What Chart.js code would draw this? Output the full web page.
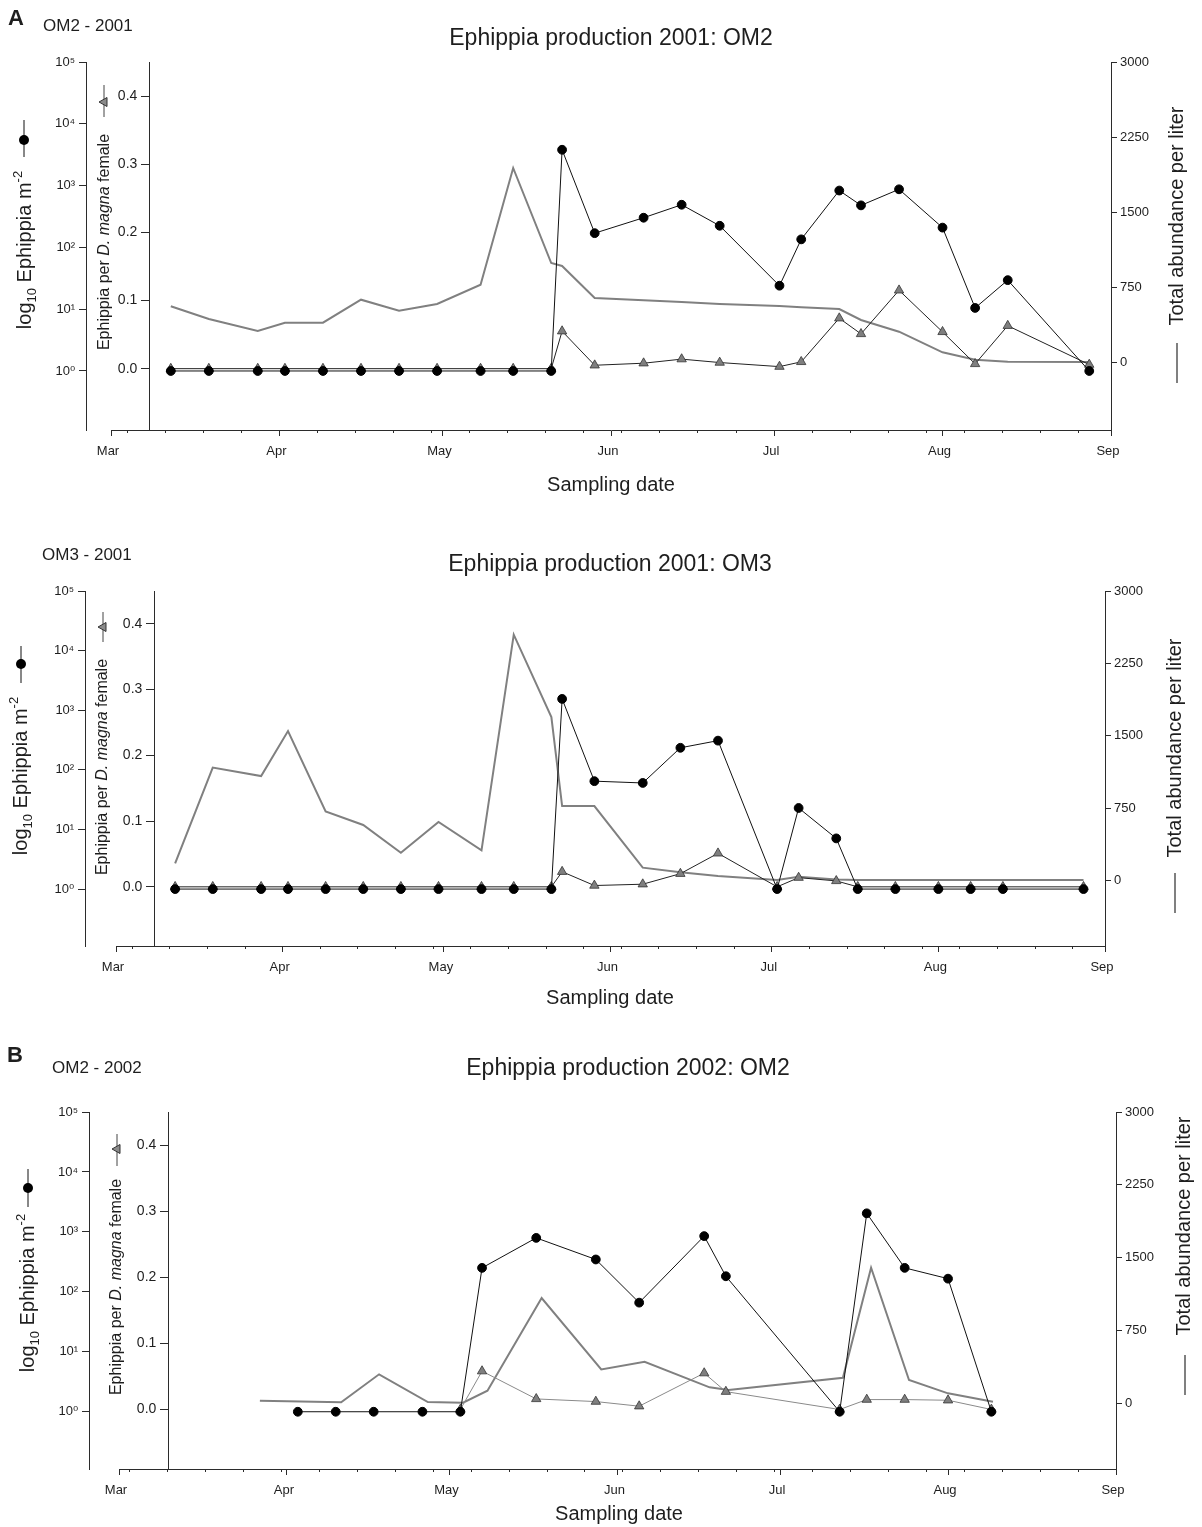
<!DOCTYPE html>
<html>
<head>
<meta charset="utf-8">
<title>Ephippia production</title>
<script src="https://cdn.jsdelivr.net/npm/chart.js@4.4.1/dist/chart.umd.min.js"></script>
<style>
  html, body { margin: 0; padding: 0; background: #fff; }
  #wrap { position: relative; width: 1202px; height: 1527px; overflow: hidden; }
  canvas { position: absolute; left: 0; }
</style>
</head>
<body>
<div id="wrap">
  <canvas id="om2_2001" width="1202" height="510" style="top:0px"></canvas>
  <canvas id="om3_2001" width="1202" height="510" style="top:520px"></canvas>
  <canvas id="om2_2002" width="1202" height="497" style="top:1030px"></canvas>
</div>
<script>
// x values are days since 1 March
const MONTH_LABELS = ['Mar', 'Apr', 'May', 'Jun', 'Jul', 'Aug', 'Sep'];
const MONTH_START_DAYS = [0, 31, 61, 92, 122, 153, 184];
const LOG_TICKS = [0, 1, 2, 3, 4, 5];
const LOG_TICK_LABELS = ['10\u2070', '10\u00b9', '10\u00b2', '10\u00b3', '10\u2074', '10\u2075'];
const RATIO_TICKS = [0, 0.1, 0.2, 0.3, 0.4];
const ABUND_TICKS = [0, 750, 1500, 2250, 3000];
const FIRST_SUNDAY_2001 = 3;
const FIRST_SUNDAY_2002 = 2;

// OM2 - 2001 and OM3 - 2001 share sampling dates
const days2001 = [11, 18, 27, 32, 39, 46, 53, 60, 68, 74, 81, 83, 89, 98, 105, 112, 123, 127, 134, 138, 145, 153, 159, 165, 180];

const om2_2001_ephippiaLog = [0, 0, 0, 0, 0, 0, 0, 0, 0, 0, 0, 3.58, 2.23, 2.48, 2.69, 2.35, 1.38, 2.13, 2.92, 2.68, 2.94, 2.32, 1.02, 1.47, 0];
const om2_2001_perFemale = [0, 0, 0, 0, 0, 0, 0, 0, 0, 0, 0, 0.055, 0.005, 0.008, 0.014, 0.009, 0.003, 0.010, 0.074, 0.051, 0.115, 0.054, 0.007, 0.063, 0.006];
const om2_2001_abundDays = [11, 18, 27, 32, 39, 46, 53, 60, 68, 74, 81, 83, 89, 98, 105, 112, 123, 127, 134, 138, 145, 153, 159, 165, 180];
const om2_2001_abundance = [557, 430, 310, 393, 393, 623, 513, 580, 773, 1940, 990, 960, 640, 617, 600, 580, 560, 547, 530, 420, 303, 97, 23, 3, 0];

const om3_2001_ephippiaLog = [0, 0, 0, 0, 0, 0, 0, 0, 0, 0, 0, 3.19, 1.81, 1.78, 2.37, 2.49, 0, 1.36, 0.85, 0, 0, 0, 0, 0, 0];
const om3_2001_perFemale = [0, 0, 0, 0, 0, 0, 0, 0, 0, 0, 0, 0.023, 0.002, 0.004, 0.020, 0.051, 0, 0.014, 0.009, 0, 0, 0, 0, 0, 0];
const om3_2001_abundDays = [11, 18, 27, 32, 39, 46, 53, 60, 68, 74, 81, 83, 89, 98, 105, 112, 123, 127, 134, 138, 145, 153, 159, 165, 180];
const om3_2001_abundance = [176, 1169, 1082, 1548, 714, 575, 287, 605, 311, 2547, 1693, 770, 770, 132, 85, 45, 3, 38, 10, 3, 3, 3, 3, 3, 3];

const days2002 = [33, 40, 47, 56, 63, 67, 77, 88, 96, 108, 112, 133, 138, 145, 153, 161];
const om2_2002_ephippiaLog = [0, 0, 0, 0, 0, 2.40, 2.90, 2.54, 1.82, 2.93, 2.26, 0, 3.31, 2.40, 2.22, 0];
const om2_2002_perFemale = [null, null, null, null, 0, 0.058, 0.016, 0.012, 0.005, 0.055, 0.027, 0, 0.015, 0.015, 0.014, 0];
const om2_2002_abundDays = [26, 41, 48, 57, 63.5, 68, 78, 89, 97, 109, 112.5, 133.6, 138.8, 145.8, 153, 161.3];
const om2_2002_abundance = [24, 7, 296, 10, 3, 127, 1082, 347, 426, 162, 134, 261, 1395, 237, 100, 13];

const FONT = "'Liberation Sans', Arial, 'DejaVu Sans', sans-serif";
const AXIS = '#2b2b2b';
const TEXT = '#1e1e1e';
// labels of axes placed inside the plot are right-aligned on the axis line,
// so they get a few trailing spaces to clear the tick marks
const GAP = '   ';
Chart.defaults.font.family = FONT;
Chart.defaults.color = TEXT;

function points(xs, ys) {
  return xs.map((x, i) => ({ x: x, y: ys[i] })).filter(p => p.y !== null);
}

function weekTicks(first) {
  const out = [];
  for (let d = first; d <= 184; d += 7) out.push({ value: d });
  return out;
}

// rotated text made of runs (for sub/superscripts and italics)
function rotatedRuns(ctx, baseX, centerY, runs) {
  ctx.save();
  ctx.translate(baseX, centerY);
  ctx.rotate(-Math.PI / 2);
  ctx.textBaseline = 'alphabetic';
  ctx.textAlign = 'left';
  let total = 0;
  runs.forEach(r => {
    ctx.font = (r.italic ? 'italic ' : '') + r.size + 'px ' + FONT;
    r.w = ctx.measureText(r.t).width;
    total += r.w;
  });
  let x = -total / 2;
  runs.forEach(r => {
    ctx.font = (r.italic ? 'italic ' : '') + r.size + 'px ' + FONT;
    ctx.fillText(r.t, x, r.dy || 0);
    x += r.w;
  });
  ctx.restore();
}

const panelText = {
  id: 'panelText',
  afterDraw(chart, args, o) {
    const ctx = chart.ctx;
    ctx.save();
    ctx.fillStyle = TEXT;
    ctx.textBaseline = 'alphabetic';
    if (o.letter) {
      ctx.font = 'bold 22px ' + FONT;
      ctx.textAlign = 'left';
      ctx.fillText(o.letter, o.letterPos[0], o.letterPos[1]);
    }
    ctx.font = '17px ' + FONT;
    ctx.textAlign = 'left';
    ctx.fillText(o.tag, o.tagPos[0], o.tagPos[1]);
    ctx.font = '23px ' + FONT;
    ctx.textAlign = 'center';
    ctx.fillText(o.title, o.titlePos[0], o.titlePos[1]);
    ctx.font = '20px ' + FONT;
    ctx.fillText('Sampling date', o.xTitlePos[0], o.xTitlePos[1]);

    rotatedRuns(ctx, o.logTitle[0], o.logTitle[1], [
      { t: 'log', size: 20 },
      { t: '10', size: 13, dy: 5 },
      { t: ' Ephippia m', size: 20 },
      { t: '-2', size: 13, dy: -9 }
    ]);
    rotatedRuns(ctx, o.inTitle[0], o.inTitle[1], [
      { t: 'Ephippia per ', size: 16 },
      { t: 'D. magna', size: 16, italic: true },
      { t: ' female', size: 16 }
    ]);
    rotatedRuns(ctx, o.rTitle[0], o.rTitle[1], [
      { t: 'Total abundance per liter', size: 20 }
    ]);

    // legend keys next to the axis titles
    ctx.lineWidth = 1;
    ctx.strokeStyle = '#111';
    const d = o.dotKey;
    ctx.beginPath(); ctx.moveTo(d[0], d[2]); ctx.lineTo(d[0], d[3]); ctx.stroke();
    ctx.fillStyle = '#000';
    ctx.beginPath(); ctx.arc(d[0], d[1], 5, 0, Math.PI * 2); ctx.fill();

    const t = o.triKey;
    ctx.strokeStyle = '#444';
    ctx.beginPath(); ctx.moveTo(t[0], t[2]); ctx.lineTo(t[0], t[3]); ctx.stroke();
    ctx.fillStyle = '#8a8a8a';
    ctx.strokeStyle = '#333';
    ctx.beginPath();
    ctx.moveTo(t[0] - 5, t[1]);
    ctx.lineTo(t[0] + 3, t[1] - 4.5);
    ctx.lineTo(t[0] + 3, t[1] + 4.5);
    ctx.closePath(); ctx.fill(); ctx.stroke();

    const g = o.lineKey;
    ctx.strokeStyle = '#808080';
    ctx.lineWidth = 2;
    ctx.beginPath(); ctx.moveTo(g[0], g[1]); ctx.lineTo(g[0], g[2]); ctx.stroke();
    ctx.restore();
  }
};

function buildPanel(id, p) {
  const canvas = document.getElementById(id);
  const W = canvas.width, H = canvas.height;
  const a = p.area;
  const RIGHT_W = 80, X_H = 40;
  const perDay = (a.right - a.left) / 184;
  const tickStyle = { drawOnChartArea: false, color: AXIS, tickColor: AXIS, lineWidth: 1 };

  new Chart(canvas.getContext('2d'), {
    type: 'line',
    data: {
      datasets: [
        {
          label: 'Ephippia m-2',
          data: points(p.days, p.ephLog),
          yAxisID: 'yLog',
          borderColor: '#111', borderWidth: 1,
          pointStyle: 'circle', pointRadius: 4.4,
          pointBackgroundColor: '#000', pointBorderColor: '#000', pointBorderWidth: 1
        },
        {
          label: 'Ephippia per D. magna female',
          data: points(p.days, p.perFemale),
          yAxisID: 'yIn',
          borderColor: p.ratioLine, borderWidth: 1,
          pointStyle: 'triangle', pointRadius: 5.4,
          pointBackgroundColor: '#7f7f7f', pointBorderColor: '#333', pointBorderWidth: 0.8
        },
        {
          label: 'Total abundance per liter',
          data: points(p.abDays, p.abund),
          yAxisID: 'yR',
          borderColor: '#808080', borderWidth: 2,
          pointRadius: 0
        }
      ]
    },
    options: {
      responsive: false,
      animation: false,
      events: [],
      layout: { padding: { left: a.left, top: a.top, right: W - a.right - RIGHT_W, bottom: H - a.bottom - X_H } },
      plugins: { legend: { display: false }, tooltip: { enabled: false }, panelText: p.text },
      scales: {
        x: {
          type: 'linear', position: 'bottom', min: 0, max: 184,
          afterBuildTicks: s => { s.ticks = MONTH_START_DAYS.map(v => ({ value: v })); },
          afterFit: s => { s.height = X_H; },
          grid: Object.assign({ tickLength: 6 }, tickStyle),
          border: { color: AXIS, width: 1 },
          ticks: {
            autoSkip: false, maxRotation: 0, padding: 8, labelOffset: -3,
            font: { size: 13 }, color: TEXT,
            callback: v => MONTH_LABELS[MONTH_START_DAYS.indexOf(v)]
          }
        },
        xw: {
          axis: 'x', type: 'linear', position: { yR: -680 }, min: 0, max: 184,
          afterBuildTicks: s => { s.ticks = weekTicks(p.firstSunday); },
          grid: Object.assign({ tickLength: 3 }, tickStyle),
          border: { display: false },
          ticks: { display: false }
        },
        yLog: {
          axis: 'y', type: 'linear', position: { x: (p.logAxisX - a.left) / perDay },
          min: -0.955, max: 5,
          afterBuildTicks: s => { s.ticks = LOG_TICKS.map(v => ({ value: v })); },
          grid: Object.assign({ tickLength: 7 }, tickStyle),
          border: { color: AXIS, width: 1 },
          ticks: { padding: 3, font: { size: 13 }, color: TEXT, callback: v => LOG_TICK_LABELS[LOG_TICKS.indexOf(v)] + GAP }
        },
        yIn: {
          axis: 'y', type: 'linear', position: { x: (p.inAxisX - a.left) / perDay },
          min: -0.09, max: 0.45,
          afterBuildTicks: s => { s.ticks = RATIO_TICKS.map(v => ({ value: v })); },
          grid: Object.assign({ tickLength: 8 }, tickStyle),
          border: { color: AXIS, width: 1 },
          ticks: { padding: 3, font: { size: 14 }, color: TEXT, callback: v => v.toFixed(1) + GAP }
        },
        yR: {
          type: 'linear', position: 'right', min: -680, max: 3000,
          afterBuildTicks: s => { s.ticks = ABUND_TICKS.map(v => ({ value: v })); },
          afterFit: s => { s.width = RIGHT_W; },
          grid: Object.assign({ tickLength: 6 }, tickStyle),
          border: { color: AXIS, width: 1 },
          ticks: { padding: 3, font: { size: 13 }, color: TEXT, callback: v => String(v) }
        }
      }
    },
    plugins: [panelText]
  });
}

buildPanel('om2_2001', {
  area: { left: 111, top: 62, right: 1111, bottom: 430 },
  logAxisX: 86, inAxisX: 149, firstSunday: FIRST_SUNDAY_2001,
  days: days2001, ephLog: om2_2001_ephippiaLog, perFemale: om2_2001_perFemale,
  abDays: om2_2001_abundDays, abund: om2_2001_abundance, ratioLine: '#222',
  text: {
    letter: 'A', letterPos: [8, 25], tag: 'OM2 - 2001', tagPos: [43, 31],
    title: 'Ephippia production 2001: OM2', titlePos: [611, 45], xTitlePos: [611, 491],
    logTitle: [31, 250], inTitle: [109, 242], rTitle: [1183, 216],
    dotKey: [24, 140, 120, 157], triKey: [104, 102, 85, 117], lineKey: [1177, 343, 383]
  }
});

buildPanel('om3_2001', {
  area: { left: 116, top: 71, right: 1105, bottom: 426 },
  logAxisX: 85, inAxisX: 154, firstSunday: FIRST_SUNDAY_2001,
  days: days2001, ephLog: om3_2001_ephippiaLog, perFemale: om3_2001_perFemale,
  abDays: om3_2001_abundDays, abund: om3_2001_abundance, ratioLine: '#222',
  text: {
    tag: 'OM3 - 2001', tagPos: [42, 40],
    title: 'Ephippia production 2001: OM3', titlePos: [610, 51], xTitlePos: [610, 484],
    logTitle: [27, 256], inTitle: [107, 247], rTitle: [1181, 228],
    dotKey: [21, 144, 126, 163], triKey: [103, 107, 92, 122], lineKey: [1175, 353, 393]
  }
});

buildPanel('om2_2002', {
  area: { left: 119, top: 82, right: 1116, bottom: 439 },
  logAxisX: 89, inAxisX: 168, firstSunday: FIRST_SUNDAY_2002,
  days: days2002, ephLog: om2_2002_ephippiaLog, perFemale: om2_2002_perFemale,
  abDays: om2_2002_abundDays, abund: om2_2002_abundance, ratioLine: '#8a8a8a',
  text: {
    letter: 'B', letterPos: [7, 32], tag: 'OM2 - 2002', tagPos: [52, 43],
    title: 'Ephippia production 2002: OM2', titlePos: [628, 45], xTitlePos: [619, 490],
    logTitle: [34, 263], inTitle: [121, 257], rTitle: [1190, 196],
    dotKey: [28, 158, 139, 177], triKey: [117, 119, 104, 136], lineKey: [1185, 325, 365]
  }
});
</script>
</body>
</html>
